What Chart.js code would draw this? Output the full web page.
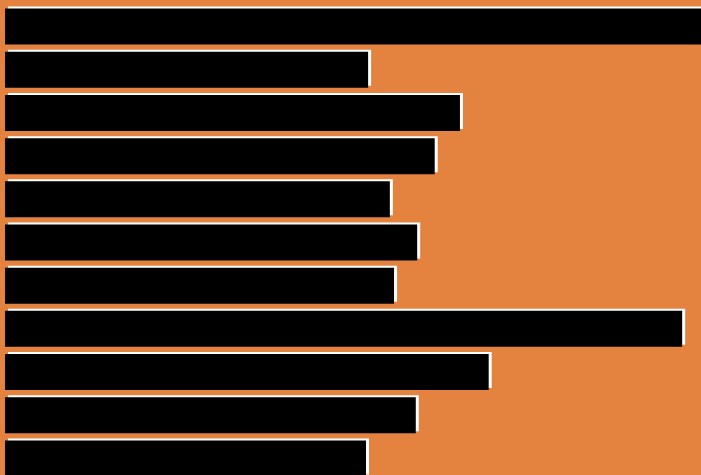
<!DOCTYPE html>
<html>
<head>
<meta charset="utf-8">
<script src="https://cdn.jsdelivr.net/npm/chart.js@4"></script>
<style>
  html, body { margin: 0; padding: 0; overflow: hidden; background: #e4823f; }
  #wrap { position: absolute; left: 0; top: 0; width: 711px; height: 485px; }
</style>
</head>
<body>
<div id="wrap"><canvas id="c" width="711" height="485"></canvas></div>
<script>
const categories = ["A", "B", "C", "D", "E", "F", "G", "H", "I", "J", "K"];
const values = [100, 51.8, 64.9, 61.3, 54.9, 58.8, 55.5, 96.6, 69.0, 58.6, 51.5];
const valueMax = 100;

const shadowPlugin = {
  id: 'whiteShadow',
  beforeDatasetsDraw(chart) {
    const ctx = chart.ctx;
    ctx.save();
    ctx.shadowColor = '#ffffff';
    ctx.shadowBlur = 0;
    ctx.shadowOffsetX = 3;
    ctx.shadowOffsetY = -2;
  },
  afterDatasetsDraw(chart) {
    chart.ctx.restore();
  }
};

const bgPlugin = {
  id: 'bg',
  beforeDraw(chart) {
    const ctx = chart.ctx;
    ctx.save();
    ctx.fillStyle = '#e4823f';
    ctx.fillRect(0, 0, chart.width, chart.height);
    ctx.restore();
  }
};

new Chart(document.getElementById('c'), {
  type: 'bar',
  data: {
    labels: categories,
    datasets: [{
      data: values,
      backgroundColor: '#000000',
      borderWidth: 0,
      categoryPercentage: 1.0,
      barPercentage: 0.834
    }]
  },
  options: {
    indexAxis: 'y',
    responsive: false,
    animation: false,
    layout: { padding: 5 },
    plugins: { legend: { display: false }, tooltip: { enabled: false } },
    scales: {
      x: { display: false, min: 0, max: valueMax },
      y: { display: false }
    }
  },
  plugins: [bgPlugin, shadowPlugin]
});
</script>
</body>
</html>
